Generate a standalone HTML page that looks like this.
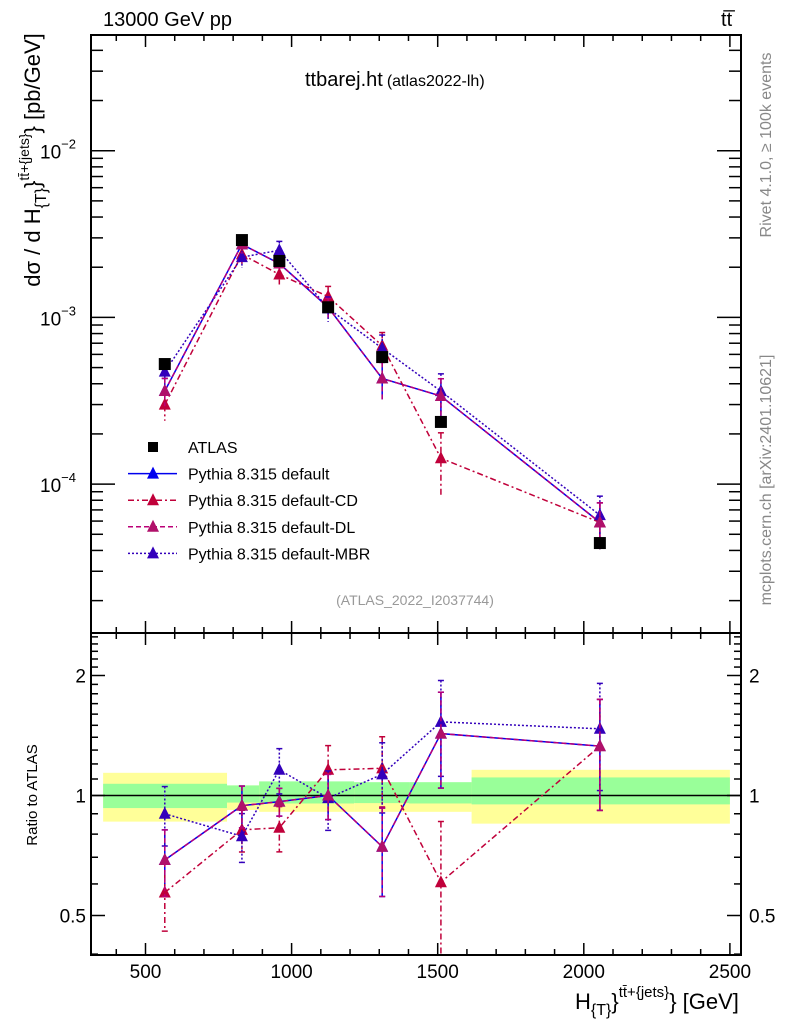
<!DOCTYPE html>
<html><head><meta charset="utf-8"><style>
html,body{margin:0;padding:0;background:#fff;}
svg{display:block;font-family:"Liberation Sans",Arial,sans-serif;}
</style></head><body>
<svg id="c" width="786" height="1024" viewBox="0 0 786 1024" xmlns="http://www.w3.org/2000/svg"></svg>
<script>
// ---- data ----
const xVals = [566, 830, 958, 1125, 1310, 1511, 2055];
const atlasVals = [5.25e-4, 2.91e-3, 2.18e-3, 1.15e-3, 5.78e-4, 2.36e-4, 4.43e-5];
const ratioDefault = [0.689, 0.943, 0.965, 1.0, 0.744, 1.43, 1.33];
const errDefault = [0.19, 0.12, 0.08, 0.13, 0.25, 0.27, 0.31];
const ratioCD = [0.571, 0.82, 0.83, 1.16, 1.17, 0.606, 1.33];
const errCD = [0.2, 0.12, 0.13, 0.15, 0.2, 0.42, 0.31];
const ratioDL = [0.689, 0.943, 0.965, 1.0, 0.744, 1.43, 1.33];
const errDL = [0.19, 0.12, 0.08, 0.13, 0.25, 0.27, 0.31];
const ratioMBR = [0.90, 0.79, 1.16, 0.985, 1.13, 1.53, 1.47];
const errMBR = [0.17, 0.14, 0.13, 0.17, 0.2, 0.27, 0.3];
const bandEdges = [355, 779, 889, 1214, 1402, 1616, 2500];
const yellowLo = [0.86, 0.92, 0.91, 0.91, 0.91, 0.85];
const yellowHi = [1.14, 1.06, 1.08, 1.07, 1.07, 1.16];
const greenLo = [0.93, 0.96, 0.955, 0.957, 0.955, 0.95];
const greenHi = [1.07, 1.06, 1.085, 1.08, 1.08, 1.11];
const xTicks = [500, 1000, 1500, 2000, 2500];
const ratioTicks = [0.5, 1, 2];

// ---- axes ----
const L=91,R=741,T=35,MB=633,B=955;
const X=v=>145.5+(v-500)*0.2922;
const Y=v=>150.7-166.7*(Math.log10(v)+2);
const YR=r=>795.5-120*Math.log2(r);
const svg=document.getElementById('c');
const NS='http://www.w3.org/2000/svg';
function el(tag,attrs,parent){const e=document.createElementNS(NS,tag);for(const k in attrs)e.setAttribute(k,attrs[k]);(parent||svg).appendChild(e);return e;}
function txt(s,attrs,parent){const e=el('text',attrs,parent);e.textContent=s;return e;}

// ratio bands
const gB=el('g',{});


for(let i=0;i<bandEdges.length-1;i++){
  const x1=X(bandEdges[i]),x2=X(bandEdges[i+1]);
  const y=el('rect',{x:x1,y:YR(yellowHi[i]),width:x2-x1,height:YR(yellowLo[i])-YR(yellowHi[i]),fill:'#ffff99'},gB);
  
  
  const g=el('rect',{x:x1,y:YR(greenHi[i]),width:x2-x1,height:YR(greenLo[i])-YR(greenHi[i]),fill:'#99ff99'},gB);
  
  
}
el('line',{x1:L,x2:R,y1:YR(1),y2:YR(1),stroke:'#000','stroke-width':1.5});

// frames
el('rect',{x:L,y:T,width:R-L,height:MB-T,fill:'none',stroke:'#000','stroke-width':2});
el('rect',{x:L,y:MB,width:R-L,height:B-MB,fill:'none',stroke:'#000','stroke-width':2});

// x ticks
for(let v=400;v<=2500;v+=100){
  const x=X(v); if(x<L||x>R)continue;
  const len=(v%500===0)?12:6;
  for(const [y0,d] of [[T,1],[MB,-1],[MB,1],[B,-1]]) el('line',{x1:x,x2:x,y1:y0,y2:y0+d*len,stroke:'#000','stroke-width':1.5});
}
xTicks.forEach(v=>{const t=txt(String(v),{x:X(v),y:978,'font-size':19,'text-anchor':'middle'});

});

// y log ticks main
for(let e=-5;e<=-1;e++){for(let m=1;m<10;m++){const v=m*Math.pow(10,e);const y=Y(v);if(y<T||y>MB)continue;
 const len=m===1?24:12;
 el('line',{x1:L,x2:L+len,y1:y,y2:y,stroke:'#000','stroke-width':1.5});
 el('line',{x1:R,x2:R-len,y1:y,y2:y,stroke:'#000','stroke-width':1.5});}}
[-2,-3,-4].forEach(e=>{const t=txt('10',{x:58,y:Y(Math.pow(10,e))+8,'font-size':19,'text-anchor':'middle'});
 const s=el('tspan',{dy:-10,'font-size':13});s.textContent='−'+(-e);t.appendChild(s);
 
 });

// ratio ticks
const rMinor=[0.4,0.5,0.6,0.7,0.8,0.9,1,1.1,1.2,1.3,1.4,1.5,1.6,1.7,1.8,1.9,2,2.1,2.2,2.3,2.4,2.5];
rMinor.forEach(r=>{const y=YR(r);if(y<MB||y>B)return;const len=ratioTicks.includes(r)?14:7;
 el('line',{x1:L,x2:L+len,y1:y,y2:y,stroke:'#000','stroke-width':1.5});
 el('line',{x1:R,x2:R-len,y1:y,y2:y,stroke:'#000','stroke-width':1.5});});
ratioTicks.forEach(r=>{
 const a=txt(String(r),{x:86,y:YR(r)+7,'font-size':19,'text-anchor':'end'});
 
 
 const b=txt(String(r),{x:749,y:YR(r)+7,'font-size':19});
 
 });

// series
const series=[
 {name:'default',ratio:ratioDefault,err:errDefault,color:'#0000ee',dash:'',mk:'#0000ee'},
 {name:'default-CD',ratio:ratioCD,err:errCD,color:'#c0003a',dash:'6,3,2,3',mk:'#c0003a'},
 {name:'default-MBR',ratio:ratioMBR,err:errMBR,color:'#3300bb',dash:'2,2',mk:'#3300bb'},
 {name:'default-DL',ratio:ratioDL,err:errDL,color:'#bb0077',dash:'5,3',mk:'#b0106a'}
];
function tri(x,y,c,g){return el('polygon',{points:`${x},${y-7} ${x-6},${y+5} ${x+6},${y+5}`,fill:c},g);}
series.forEach(s=>{
 const g=el('g',{});
 
 
 const ptsM=[],ptsR=[];
 xVals.forEach((xv,i)=>{
  const v=atlasVals[i]*s.ratio[i];const x=X(xv);
  ptsM.push(x+','+Y(v));ptsR.push(x+','+YR(s.ratio[i]));
 });
 el('polyline',{points:ptsM.join(' '),fill:'none',stroke:s.color,'stroke-width':1.5,'stroke-dasharray':s.dash},g);
 el('polyline',{points:ptsR.join(' '),fill:'none',stroke:s.color,'stroke-width':1.5,'stroke-dasharray':s.dash},g);
 xVals.forEach((xv,i)=>{
  const x=X(xv),v=atlasVals[i]*s.ratio[i],r=s.ratio[i],e=s.err[i];
  const yh=Y(v*(1+e)),yl=Y(v*Math.max(1-e,0.05));
  el('line',{x1:x,x2:x,y1:yh,y2:Math.min(yl,MB),stroke:s.color,'stroke-width':1.5,'stroke-dasharray':s.dash},g);
  el('line',{x1:x-3,x2:x+3,y1:yh,y2:yh,stroke:s.color,'stroke-width':1.5},g);
  const rh=Math.max(YR(r*(1+e)),MB),rl=Math.min(YR(r*Math.max(1-e,0.05)),B);
  el('line',{x1:x,x2:x,y1:rh,y2:rl,stroke:s.color,'stroke-width':1.5,'stroke-dasharray':s.dash},g);
  el('line',{x1:x-3,x2:x+3,y1:rh,y2:rh,stroke:s.color,'stroke-width':1.5},g);
  if(rl<B) el('line',{x1:x-3,x2:x+3,y1:rl,y2:rl,stroke:s.color,'stroke-width':1.5},g);
  const m1=tri(x,Y(v),s.mk,g);
  
  
  const m2=tri(x,YR(r),s.mk,g);
  
  
 });
});
// ATLAS data
const gA=el('g',{});


xVals.forEach((xv,i)=>{const r=el('rect',{x:X(xv)-6,y:Y(atlasVals[i])-6,width:12,height:12,fill:'#000'},gA);
 
 });

// legend
const leg=el('g',{});


const legItems=[['ATLAS',null],['Pythia 8.315 default',series[0]],['Pythia 8.315 default-CD',series[1]],['Pythia 8.315 default-DL',series[3]],['Pythia 8.315 default-MBR',series[2]]];
legItems.forEach((it,i)=>{
 const y=447+i*26.6;
 const e=el('g',{},leg);
 
 
 if(!it[1]) el('rect',{x:148,y:y-5,width:10,height:10,fill:'#000'},e);
 else{el('line',{x1:128,x2:177,y1:y,y2:y,stroke:it[1].color,'stroke-width':1.5,'stroke-dasharray':it[1].dash},e);tri(153,y,it[1].mk,e);}
 txt(it[0],{x:188,y:y+6,'font-size':16},e);
});

// texts
const texts=[
 ['13000 GeV pp',{x:103,y:26,'font-size':20},'energy-label'],
 ['(ATLAS_2022_I2037744)',{x:415,y:605,'font-size':14,fill:'#999','text-anchor':'middle'},'analysis-id'],
];
texts.forEach(t=>{const e=txt(t[0],t[1]);});
const tt=txt('t',{x:721,y:26,'font-size':20});
const tb=el('tspan',{},tt);tb.textContent='t\u0305';


const title=txt('ttbarej.ht',{x:305,y:86,'font-size':20});
const ts=el('tspan',{'font-size':16,dx:4},title);ts.textContent='(atlas2022-lh)';


const r1=txt('Rivet 4.1.0, ≥ 100k events',{x:0,y:0,'font-size':16,fill:'#888','text-anchor':'middle',transform:'translate(771,145) rotate(-90)'});


const r2=txt('mcplots.cern.ch [arXiv:2401.10621]',{x:0,y:0,'font-size':16,fill:'#888','text-anchor':'middle',transform:'translate(771,480) rotate(-90)'});


const yt=txt('dσ / d H',{x:0,y:0,'font-size':22,'text-anchor':'middle',transform:'translate(40,160) rotate(-90)'});
[['{T}',{dy:6,'font-size':16}],['}',{dy:-6}],['tt̄+{jets}',{dy:-11,'font-size':14}],['} [pb/GeV]',{dy:11}]].forEach(p=>{const s=el('tspan',p[1],yt);s.textContent=p[0];});


const rt=txt('Ratio to ATLAS',{x:0,y:0,'font-size':15,'text-anchor':'middle',transform:'translate(37,795) rotate(-90)'});


const xt=txt('H',{x:575,y:1009,'font-size':22});
[['{T}',{dy:6,'font-size':16}],['}',{dy:-6}],['tt̄+{jets}',{dy:-12,'font-size':15}],['} [GeV]',{dy:12}]].forEach(p=>{const s=el('tspan',p[1],xt);s.textContent=p[0];});


</script>
</body></html>
